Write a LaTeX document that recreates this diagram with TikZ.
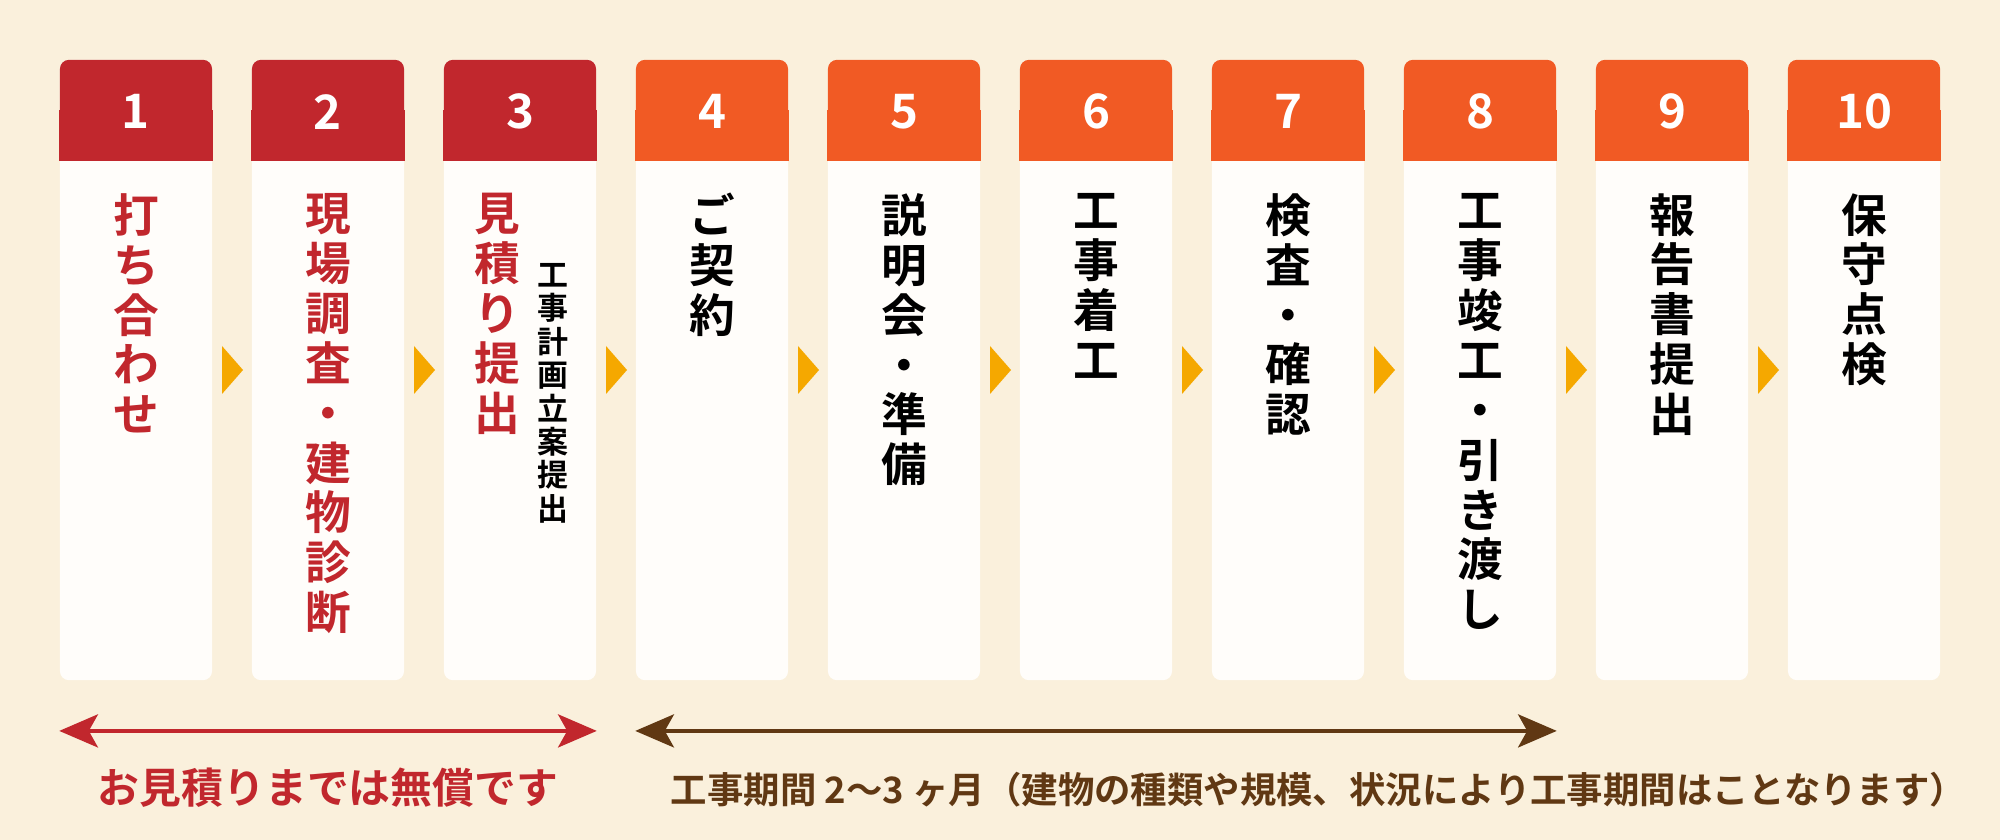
\documentclass[tikz,border=0pt]{standalone}
\usepackage{fontspec}
\newfontfamily\jpfont{Noto Sans CJK JP}[BoldFont=* Bold]
\usetikzlibrary{positioning,arrows.meta,calc}
\definecolor{flowbg}{HTML}{FAF0DC}
\definecolor{cardwhite}{HTML}{FFFDFA}
\definecolor{estred}{HTML}{C1272D}
\definecolor{workorange}{HTML}{F15A24}
\definecolor{stepamber}{HTML}{F5A800}
\definecolor{periodbrown}{HTML}{603813}

\begin{document}
\begin{tikzpicture}[
    x=0.01cm, y=-0.01cm,
    card/.style={fill=cardwhite, rounded corners=0.09cm, inner sep=0pt, minimum width=1.52cm, minimum height=6.2cm},
    cardhead/.style={rounded corners=0.09cm, inner sep=0pt, minimum width=1.52cm, minimum height=1cm},
    cardnum/.style={text=white, inner sep=0pt, font=\jpfont\bfseries\fontsize{13.5}{14}\selectfont},
    vtext/.style={align=center, inner sep=0pt, anchor=north, font=\jpfont\bfseries\fontsize{13}{14.2}\selectfont},
    vsmall/.style={align=center, inner sep=0pt, anchor=north, font=\jpfont\bfseries\fontsize{8.8}{9.5}\selectfont},
    marker/.style={fill=stepamber},
    spanarrow/.style={{Stealth[length=11pt,width=9.4pt,inset=2.6pt]}-{Stealth[length=11pt,width=9.4pt,inset=2.6pt]}, line width=1.15pt},
    note/.style={inner sep=0pt},
]
  \fill[flowbg] (0,0) rectangle (2000,840);
  % cards and their numbered heads
  \foreach \i/\hc in {1/estred,2/estred,3/estred,4/workorange,5/workorange,6/workorange,7/workorange,8/workorange,9/workorange,10/workorange}{
    \node[card] (card\i) at ({136+192*(\i-1)},370) {};
    \node[cardhead, fill=\hc, anchor=north] (head\i) at (card\i.north) {};
    \fill[\hc] (head\i.west) rectangle (head\i.south east);
    \node[cardnum] (num\i) at ($(head\i)+(0,2)$) {\i};
  }
  % amber markers between the cards
  \foreach \i [evaluate=\i as \j using int(\i+1)] in {1,...,9}{
    \coordinate (gap\i) at ($(card\i.east)!0.5!(card\j.west)$);
    \fill[marker] ($(gap\i)+(-10,-24)$) -- ($(gap\i)+(11,0)$) -- ($(gap\i)+(-10,24)$) -- cycle;
  }
  \node[vtext, text=estred] (txt1) at ($(head1.south)+(0,32)$) {打\\ち\\合\\わ\\せ};
  \node[vtext, text=estred] (txt2) at ($(head2.south)+(0,32)$) {現\\場\\調\\査\\・\\建\\物\\診\\断};
  \node[vtext, text=estred] (txt3) at ($(head3.south)+(-23,32)$) {見\\積\\り\\提\\出};
  \node[vsmall] (txt3b) at ($(head3.south)+(33,102)$) {工\\事\\計\\画\\立\\案\\提\\出};
  \node[vtext] (txt4) at ($(head4.south)+(0,32)$) {ご\\契\\約};
  \node[vtext] (txt5) at ($(head5.south)+(0,32)$) {説\\明\\会\\・\\準\\備};
  \node[vtext] (txt6) at ($(head6.south)+(0,32)$) {工\\事\\着\\工};
  \node[vtext] (txt7) at ($(head7.south)+(0,32)$) {検\\査\\・\\確\\認};
  \node[vtext] (txt8) at ($(head8.south)+(0,32)$) {工\\事\\竣\\工\\・\\引\\き\\渡\\し};
  \node[vtext] (txt9) at ($(head9.south)+(0,32)$) {報\\告\\書\\提\\出};
  \node[vtext] (txt10) at ($(head10.south)+(0,32)$) {保\\守\\点\\検};
  % periods below
  \draw[spanarrow, estred] ([yshift=-0.5cm]card1.south west) -- ([yshift=-0.5cm]card3.south east);
  \draw[spanarrow, periodbrown] ([yshift=-0.5cm]card4.south west) -- ([yshift=-0.5cm]card8.south east);
  \node[note, text=estred, font=\jpfont\bfseries\fontsize{11.9}{12}\selectfont] (freenote) at ([yshift=-1.07cm]card2.south) {お見積りまでは無償です};
  \node[note, text=periodbrown, anchor=west, font=\jpfont\bfseries\fontsize{10.35}{11}\selectfont] (periodnote) at ([xshift=0.35cm, yshift=-1.09cm]card4.south west) {工事期間 2〜3 ヶ月（建物の種類や規模、状況により工事期間はことなります）};
\end{tikzpicture}
\end{document}
